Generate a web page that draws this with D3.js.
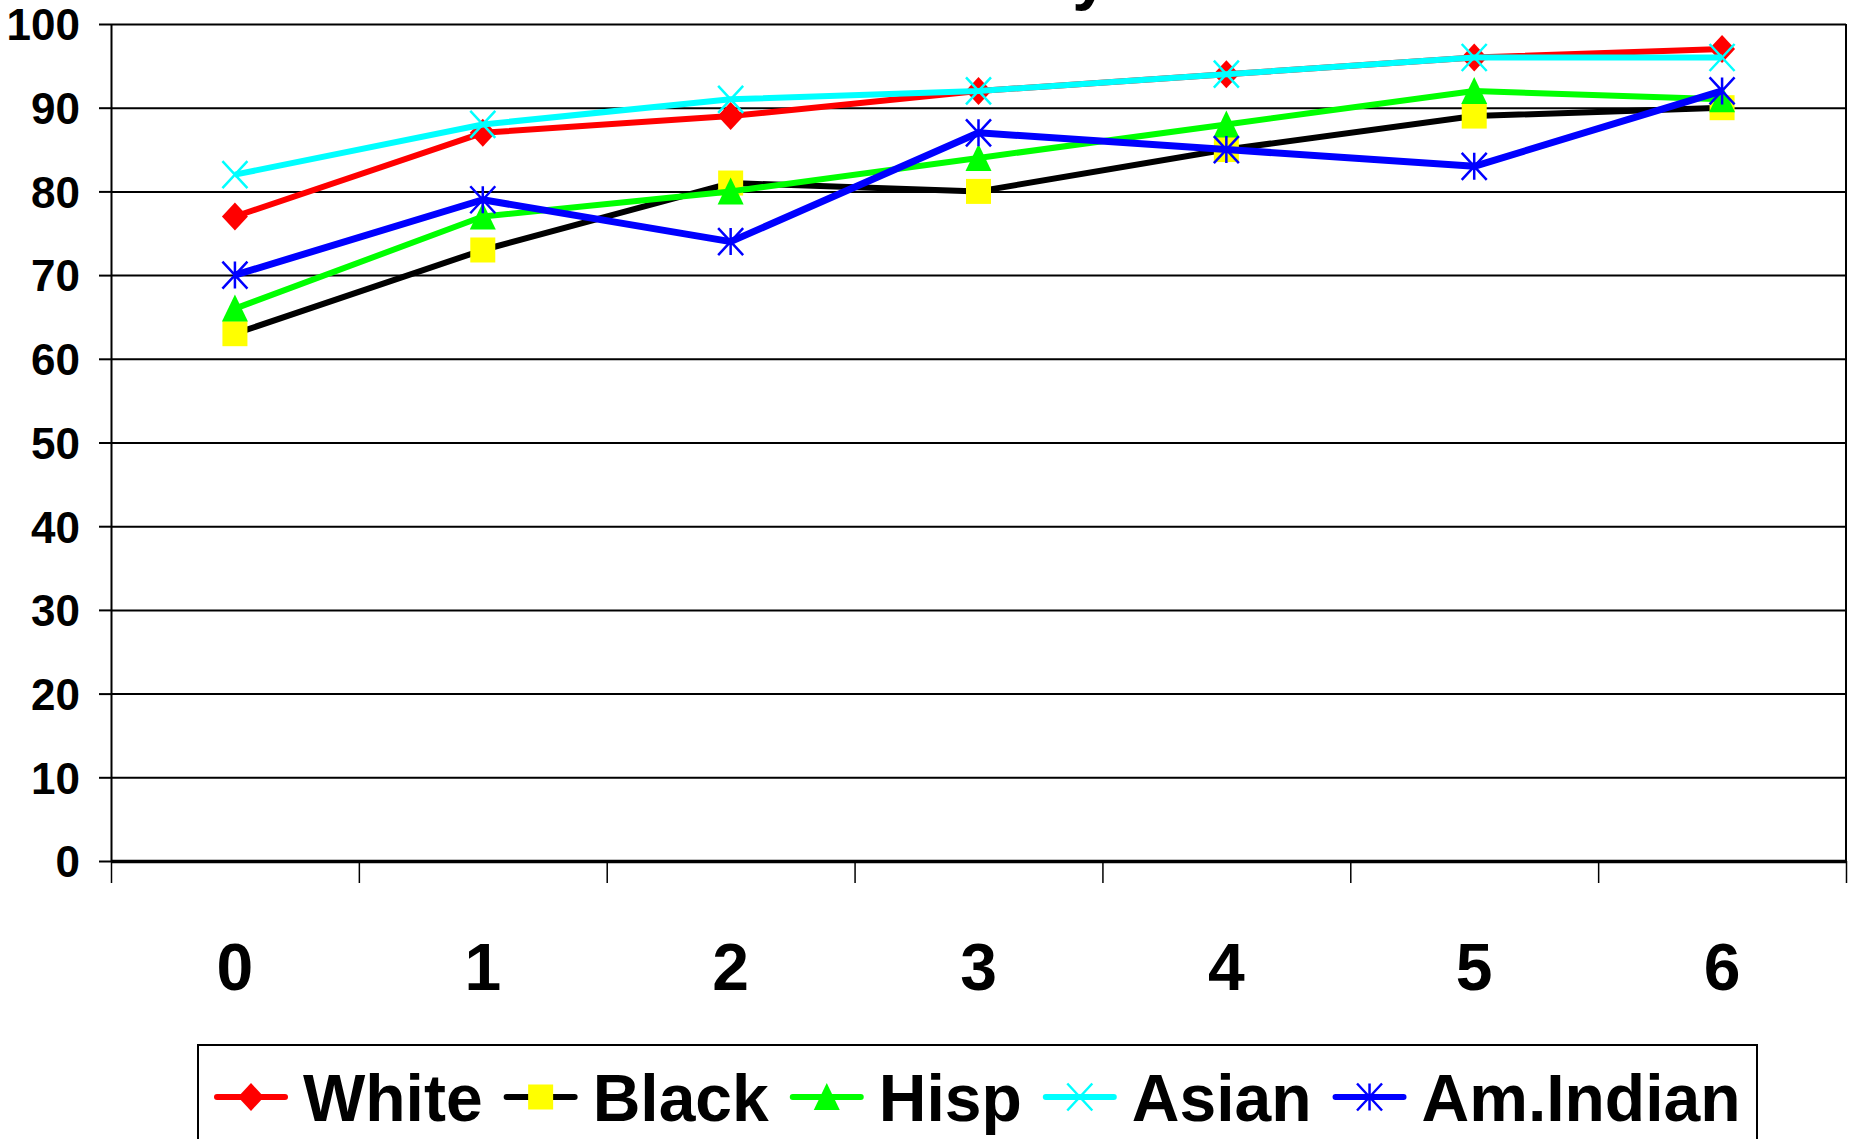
<!DOCTYPE html>
<meta charset="utf-8">
<style>
    body { margin: 0; background: #fff; }
    svg { display: block; }
    text { font-family: "Liberation Sans", Arial, sans-serif; font-weight: bold; }
    .grid line { stroke: #000; stroke-width: 2px; }
    .grid path { display: none; }
</style>
<svg width="1856" height="1139"></svg>
<script src="https://d3js.org/d3.v7.min.js"></script>
<script>
    // data
    var categories = ["0", "1", "2", "3", "4", "5", "6"];
    var seriesNames = ["White", "Black", "Hisp", "Asian", "Am.Indian"];
    var whiteVals = [77, 87, 89, 92, 94, 96, 97];
    var blackVals = [63, 73, 81, 80, 85, 89, 90];
    var hispVals = [66, 77, 80, 84, 88, 92, 91];
    var asianVals = [82, 88, 91, 92, 94, 96, 96];
    var amIndianVals = [70, 79, 74, 87, 85, 83, 92];
    var yTicks = [0, 10, 20, 30, 40, 50, 60, 70, 80, 90, 100];

    var seriesVals = [whiteVals, blackVals, hispVals, asianVals, amIndianVals];
    var lineColors = ["#ff0000", "#000000", "#00ff00", "#00ffff", "#0000ff"];
    var markerFill = ["#ff0000", "#ffff00", "#00ff00", "#00ffff", "#0000ff"];
    var markerType = ["diamond", "square", "triangle", "x", "star"];

    var svg = d3.select("svg"),
        plotLeft = 111, plotRight = 1846, plotTop = 24, plotBottom = 861;

    var x = d3.scaleBand().domain(categories).range([plotLeft, plotRight]);
    var xEdge = d3.scaleLinear().domain([0, categories.length]).range([plotLeft, plotRight]);
    var y = d3.scaleLinear().domain([0, 100]).range([plotBottom, plotTop]);

    // title, cut off by the top edge of the picture (only a descender shows)
    svg.append("text")
        .attr("x", 1109)
        .attr("y", -3)
        .attr("text-anchor", "end")
        .attr("font-size", 66)
        .text("Math Proficiency");

    // gridlines
    svg.append("g")
        .attr("class", "grid")
        .attr("transform", "translate(" + plotLeft + ",0)")
        .call(d3.axisLeft(y).tickValues(yTicks).tickSize(-(plotRight - plotLeft)).tickFormat(""));

    // right border
    svg.append("line")
        .attr("x1", plotRight).attr("x2", plotRight)
        .attr("y1", plotTop).attr("y2", plotBottom)
        .attr("stroke", "#000").attr("stroke-width", 2);

    // y axis
    var yAxis = svg.append("g")
        .attr("transform", "translate(" + plotLeft + ",0)")
        .call(d3.axisLeft(y).tickValues(yTicks).tickSize(12).tickSizeOuter(0).tickPadding(19));
    yAxis.select(".domain").attr("stroke", "#000").attr("stroke-width", 2);
    yAxis.selectAll(".tick line").attr("stroke", "#000").attr("stroke-width", 2);
    yAxis.selectAll(".tick text")
        .attr("font-size", 44)
        .attr("font-family", "Liberation Sans, Arial, sans-serif")
        .attr("font-weight", "bold")
        .attr("fill", "#000")
        .attr("dy", "0.36em");

    // x axis: ticks on category edges
    var xAxis = svg.append("g")
        .attr("transform", "translate(0," + plotBottom + ")")
        .call(d3.axisBottom(xEdge).ticks(categories.length).tickSize(22).tickSizeOuter(0).tickFormat(""));
    xAxis.select(".domain").attr("stroke", "#000").attr("stroke-width", 3.5);
    xAxis.selectAll(".tick line").attr("stroke", "#000").attr("stroke-width", 1.5);

    svg.append("g")
        .selectAll("text")
        .data(categories)
        .enter().append("text")
        .attr("x", function (d) { return x(d) + x.bandwidth() / 2; })
        .attr("y", 990)
        .attr("text-anchor", "middle")
        .attr("font-size", 66)
        .text(function (d) { return d; });

    function drawMarker(g, type, fill) {
        if (type === "diamond") {
            g.append("path").attr("d", "M0,-14L13,0L0,14L-13,0Z").attr("fill", fill);
        } else if (type === "square") {
            g.append("rect").attr("x", -12.5).attr("y", -12.5).attr("width", 25).attr("height", 25).attr("fill", fill);
        } else if (type === "triangle") {
            g.append("path").attr("d", "M0,-14L13,13L-13,13Z").attr("fill", fill);
        } else if (type === "x") {
            g.append("path").attr("d", "M-12.5,-13.5L12.5,13.5M-12.5,13.5L12.5,-13.5")
                .attr("stroke", fill).attr("stroke-width", 2.5).attr("fill", "none");
        } else {
            g.append("path").attr("d", "M-12.5,-13.5L12.5,13.5M-12.5,13.5L12.5,-13.5M0,-13.5L0,13.5")
                .attr("stroke", fill).attr("stroke-width", 2.5).attr("fill", "none");
        }
    }

    var line = d3.line()
        .x(function (d, i) { return x(categories[i]) + x.bandwidth() / 2; })
        .y(function (d) { return y(d); });

    seriesVals.forEach(function (vals, s) {
        var g = svg.append("g");
        g.append("path")
            .attr("d", line(vals))
            .attr("fill", "none")
            .attr("stroke", lineColors[s])
            .attr("stroke-width", s === 4 ? 7 : 6)
            .attr("stroke-linejoin", "round");
        g.selectAll("g")
            .data(vals)
            .enter().append("g")
            .attr("transform", function (d, i) {
                return "translate(" + (x(categories[i]) + x.bandwidth() / 2) + "," + y(d) + ")";
            })
            .each(function () { drawMarker(d3.select(this), markerType[s], markerFill[s]); });
    });

    // legend
    var legend = svg.append("g");
    legend.append("rect")
        .attr("x", 198).attr("y", 1045)
        .attr("width", 1559).attr("height", 120)
        .attr("fill", "#fff").attr("stroke", "#000").attr("stroke-width", 2);

    var lx = 217, ly = 1097;
    seriesNames.forEach(function (name, s) {
        var item = legend.append("g").attr("transform", "translate(" + lx + "," + ly + ")");
        item.append("line")
            .attr("x1", 0).attr("x2", 68)
            .attr("stroke", lineColors[s]).attr("stroke-width", 6)
            .attr("stroke-linecap", "round");
        drawMarker(item.append("g").attr("transform", "translate(34,0)"), markerType[s], markerFill[s]);
        var t = item.append("text")
            .attr("x", 86).attr("y", 24)
            .attr("font-size", 66)
            .text(name);
        lx += 86 + t.node().getComputedTextLength() + 24;
    });
</script>
